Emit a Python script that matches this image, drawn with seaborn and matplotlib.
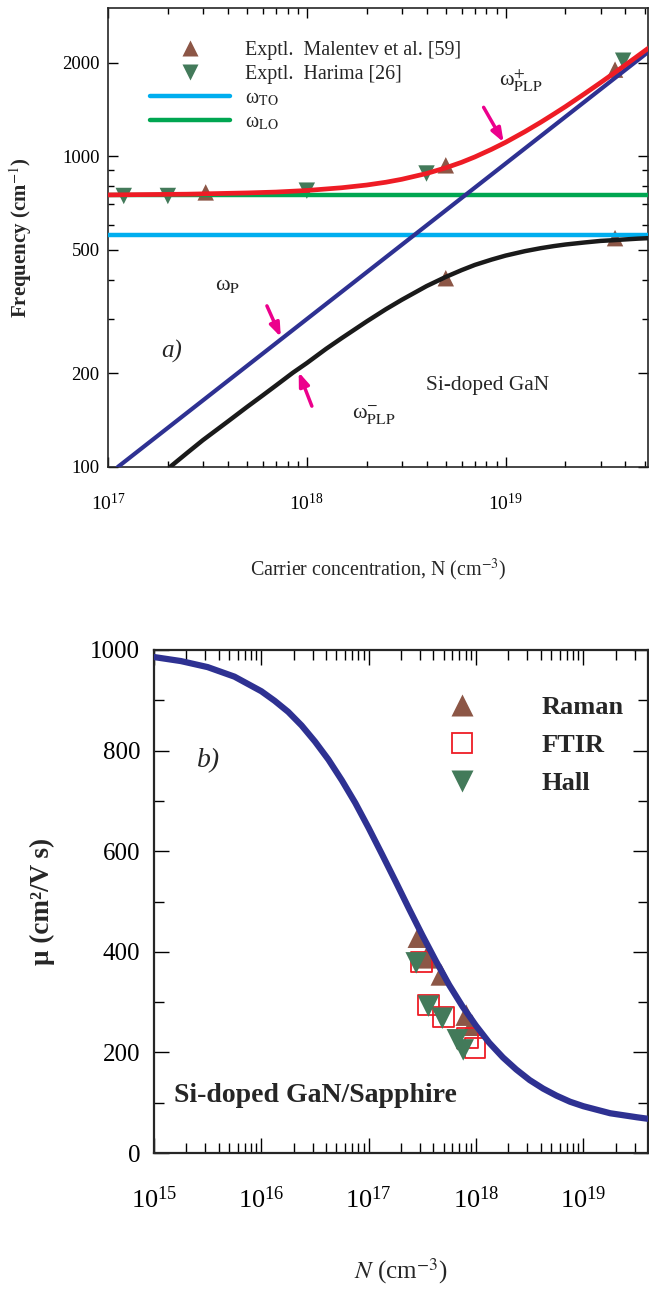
import numpy as np
import pandas as pd
import matplotlib
matplotlib.use("Agg")
import matplotlib.pyplot as plt
import seaborn as sns
from matplotlib.lines import Line2D
from matplotlib.ticker import FixedLocator, LogLocator, LogFormatterMathtext, NullFormatter, MultipleLocator

# ---------------- data: panel a) ----------------
N_malentev = [3.1e17, 5.0e18, 5.0e18, 3.55e19, 3.55e19]
w_malentev = [765, 935, 405, 1900, 545]
N_harima = [1.2e17, 2.0e17, 1.0e18, 4.0e18, 3.9e19]
w_harima = [745, 745, 775, 880, 2030]

N_plus = [1e17, 2.5e17, 5e17, 7e17, 1e18, 1.5e18, 2e18, 2.5e18, 3e18, 4e18, 5e18, 6e18, 7e18,
          8.5e18, 1e19, 1.25e19, 1.5e19, 1.75e19, 2e19, 2.5e19, 3e19, 3.5e19, 4e19, 4.6e19, 5.2e19]
w_plus = [751, 755, 762, 767, 776, 792, 808, 825, 843, 880, 918, 956, 995,
          1053, 1109, 1200, 1286, 1368, 1445, 1591, 1725, 1850, 1967, 2099, 2223]
N_minus = [2.05e17, 2.5e17, 3e17, 4e17, 5e17, 6e17, 7e17, 8.5e17, 1e18, 1.25e18, 1.5e18, 2e18,
           2.5e18, 3e18, 4e18, 5e18, 6e18, 7e18, 8.5e18, 1e19, 1.25e19, 1.5e19, 1.75e19,
           2e19, 2.5e19, 3e19, 3.5e19, 4e19, 4.6e19, 5.2e19]
w_minus = [100, 111, 122, 140, 156, 170, 183, 201, 216, 240, 260, 294,
           322, 345, 382, 409, 430, 447, 465, 479, 495, 506, 514,
           520, 528, 534, 537, 540, 543, 545]
N_p = [1.12e17, 5.2e19]
w_p = [100, 2163]
N_flat = [1e17, 5.2e19]
w_TO = [560, 560]
w_LO = [748, 748]

# ---------------- data: panel b) ----------------
N_curve = [1.0e15, 1.78e15, 3.16e15, 5.62e15, 1.0e16, 1.33e16, 1.78e16, 2.37e16, 3.16e16,
           4.22e16, 5.62e16, 7.5e16, 1.0e17, 1.33e17, 1.78e17, 2.37e17, 3.16e17, 4.22e17,
           5.62e17, 7.5e17, 1.0e18, 1.33e18, 1.78e18, 2.37e18, 3.16e18, 4.22e18, 5.62e18,
           7.5e18, 1.0e19, 1.78e19, 3.16e19, 4.0e19]
mu_curve = [986, 978, 966, 947, 918, 899, 877, 850, 818,
            782, 741, 696, 646, 594, 540, 486, 433, 382,
            334, 291, 253, 219, 190, 166, 145, 128, 114,
            102, 93, 79, 71, 68]
N_raman = [2.9e17, 3.45e17, 4.75e17, 8.1e17, 9.2e17]
mu_raman = [429, 388, 354, 274, 254]
N_ftir = [3.1e17, 3.6e17, 4.95e17, 8.3e17, 9.8e17]
mu_ftir = [380, 294, 270, 229, 209]
N_hall = [2.77e17, 3.6e17, 4.85e17, 6.7e17, 7.6e17]
mu_hall = [378, 292, 268, 225, 205]

# ---------------- style ----------------
sns.set_style("ticks")
plt.rcParams["font.family"] = ["Liberation Serif", "DejaVu Serif"]
plt.rcParams["mathtext.fontset"] = "stix"
plt.rcParams["axes.linewidth"] = 1.2

BROWN = "#8c5646"
GREEN_M = "#437a5a"
CYAN = "#00aeef"
GREEN_L = "#00a651"
RED = "#ee1c25"
NAVY = "#2e3192"
BLACK = "#1a1a1a"
MAGENTA = "#ec008c"

fig = plt.figure(figsize=(6.49, 12.90), dpi=100)
ax1 = fig.add_axes([108 / 649, 1 - 467 / 1290, 540 / 649, 459 / 1290])
ax2 = fig.add_axes([154 / 649, 1 - 1153 / 1290, 494 / 649, 503 / 1290])

# ---------------- panel a ----------------
ax1.set_xscale("log")
ax1.set_yscale("log")
sns.scatterplot(x=N_malentev, y=w_malentev, ax=ax1, marker="^", s=140, color=BROWN,
                edgecolor="none", legend=False, zorder=2)
sns.scatterplot(x=N_harima, y=w_harima, ax=ax1, marker="v", s=140, color=GREEN_M,
                edgecolor="none", legend=False, zorder=2)
sns.lineplot(x=N_flat, y=w_TO, ax=ax1, color=CYAN, lw=3.2, estimator=None, sort=False, zorder=3)
sns.lineplot(x=N_flat, y=w_LO, ax=ax1, color=GREEN_L, lw=3.2, estimator=None, sort=False, zorder=3)
sns.lineplot(x=N_p, y=w_p, ax=ax1, color=NAVY, lw=3, estimator=None, sort=False, zorder=4)
sns.lineplot(x=N_minus, y=w_minus, ax=ax1, color=BLACK, lw=3.2, estimator=None, sort=False, zorder=4)
sns.lineplot(x=N_plus, y=w_plus, ax=ax1, color=RED, lw=3.4, estimator=None, sort=False, zorder=5)

ax1.set_xlim(1e17, 5.2e19)
ax1.set_ylim(100, 3000)
ax1.yaxis.set_major_locator(FixedLocator([100, 200, 500, 1000, 2000]))
ax1.yaxis.set_minor_locator(FixedLocator([300, 400, 600, 700, 800, 900]))
ax1.yaxis.set_major_formatter(matplotlib.ticker.FuncFormatter(lambda v, p: f"{int(v)}"))
ax1.yaxis.set_minor_formatter(NullFormatter())
ax1.xaxis.set_major_locator(LogLocator(base=10))
ax1.xaxis.set_minor_locator(LogLocator(base=10, subs=np.arange(2, 10)))
ax1.xaxis.set_major_formatter(LogFormatterMathtext())
ax1.xaxis.set_minor_formatter(NullFormatter())
ax1.tick_params(which="both", direction="in", top=True, right=True, width=1.0, colors="black")
ax1.tick_params(which="major", length=7)
ax1.tick_params(which="minor", length=4)
ax1.tick_params(axis="y", labelsize=13.5, pad=6)
ax1.tick_params(axis="x", labelsize=14, pad=19)

ax1.set_ylabel("Frequency (cm$^{-1}$)", fontsize=15, fontweight="bold")
ax1.yaxis.set_label_coords(-0.137, 0.5)
ax1.set_xlabel("Carrier concentration, N (cm$^{-3}$)", fontsize=14.4)
ax1.xaxis.set_label_coords(0.5, -0.195)

leg_handles = [
    Line2D([], [], marker="^", ls="none", color=BROWN, ms=12, mec="none"),
    Line2D([], [], marker="v", ls="none", color=GREEN_M, ms=12, mec="none"),
    Line2D([], [], color=CYAN, lw=3.2),
    Line2D([], [], color=GREEN_L, lw=3.2),
]
leg_labels = ["Exptl.  Malentev et al. [59]", "Exptl.  Harima [26]",
              r"ω$_{\mathrm{TO}}$", r"ω$_{\mathrm{LO}}$"]
leg1 = ax1.legend(leg_handles, leg_labels, loc="upper left", bbox_to_anchor=(0.078, 0.928),
                  frameon=False, fontsize=14.4, handlelength=4.0, handletextpad=0.72,
                  labelspacing=0.25, borderpad=0, borderaxespad=0, numpoints=1)

ax1.text(9.3e18, 1754, r"ω$^{+}_{\mathrm{PLP}}$", fontsize=16, ha="left", va="center")
ax1.text(3.45e17, 385, r"ω$_{\mathrm{P}}$", fontsize=16, ha="left", va="center")
ax1.text(1.68e18, 147, r"ω$^{-}_{\mathrm{PLP}}$", fontsize=16, ha="left", va="center")
ax1.text(1.85e17, 236, "a)", fontsize=18, style="italic", ha="left", va="center")
ax1.text(3.96e18, 183, "Si-doped GaN", fontsize=15.4, ha="left", va="center")

arrow_kw = dict(arrowstyle="-|>,head_length=0.8,head_width=0.3", color=MAGENTA, lw=2.5,
                shrinkA=0, shrinkB=0)
ax1.annotate("", xy=(9.77e18, 1109), xytext=(7.75e18, 1437), arrowprops=arrow_kw, zorder=6)
ax1.annotate("", xy=(7.4e17, 262), xytext=(6.3e17, 330), arrowprops=arrow_kw, zorder=6)
ax1.annotate("", xy=(9.1e17, 202), xytext=(1.06e18, 157), arrowprops=arrow_kw, zorder=6)

# ---------------- panel b ----------------
ax2.set_xscale("log")
sns.scatterplot(x=N_raman, y=mu_raman, ax=ax2, marker="^", s=240, color=BROWN,
                edgecolor="none", legend=False, zorder=2)
ax2.scatter(N_ftir, mu_ftir, marker="s", s=220, facecolors="none", edgecolors=RED,
            linewidths=1.3, zorder=3)
sns.scatterplot(x=N_hall, y=mu_hall, ax=ax2, marker="v", s=240, color=GREEN_M,
                edgecolor="none", legend=False, zorder=4)
sns.lineplot(x=N_curve, y=mu_curve, ax=ax2, color=NAVY, lw=4.5, estimator=None, sort=False,
             zorder=5)

ax2.set_xlim(1e15, 4e19)
ax2.set_ylim(0, 1000)
ax2.yaxis.set_major_locator(MultipleLocator(200))
ax2.yaxis.set_minor_locator(MultipleLocator(100))
ax2.xaxis.set_major_locator(LogLocator(base=10))
ax2.xaxis.set_minor_locator(LogLocator(base=10, subs=np.arange(2, 10)))
ax2.xaxis.set_major_formatter(LogFormatterMathtext())
ax2.xaxis.set_minor_formatter(NullFormatter())
ax2.tick_params(which="both", direction="in", top=True, right=True, width=1.0, colors="black")
ax2.tick_params(which="major", length=11)
ax2.tick_params(which="minor", length=7)
ax2.tick_params(axis="y", labelsize=18, pad=10)
ax2.tick_params(axis="x", labelsize=19, pad=24)
for sp in ax2.spines.values():
    sp.set_linewidth(1.6)

ax2.set_ylabel("μ (cm²/V s)", fontsize=19.5, fontweight="bold")
ax2.yaxis.set_label_coords(-0.2, 0.5)
ax2.set_xlabel(r"$\it{N}$ (cm$^{-3}$)", fontsize=18)
ax2.xaxis.set_label_coords(0.5, -0.205)

h2 = [
    Line2D([], [], marker="^", ls="none", color=BROWN, ms=16, mec="none"),
    Line2D([], [], marker="s", ls="none", mfc="none", mec=RED, mew=1.3, ms=14.5),
    Line2D([], [], marker="v", ls="none", color=GREEN_M, ms=16, mec="none"),
]
ax2.legend(h2, ["Raman", "FTIR", "Hall"], loc="upper left", bbox_to_anchor=(0.570, 0.909),
           frameon=False, prop={"size": 19, "weight": "bold"}, handlelength=2,
           handletextpad=2.03, labelspacing=0.55, borderpad=0, borderaxespad=0, numpoints=1)

ax2.text(2.51e15, 781, "b)", fontsize=20, style="italic", ha="left", va="center")
ax2.text(1.54e15, 115, "Si-doped GaN/Sapphire", fontsize=20, fontweight="bold",
         ha="left", va="center")

fig.savefig("out.png", dpi=100)
